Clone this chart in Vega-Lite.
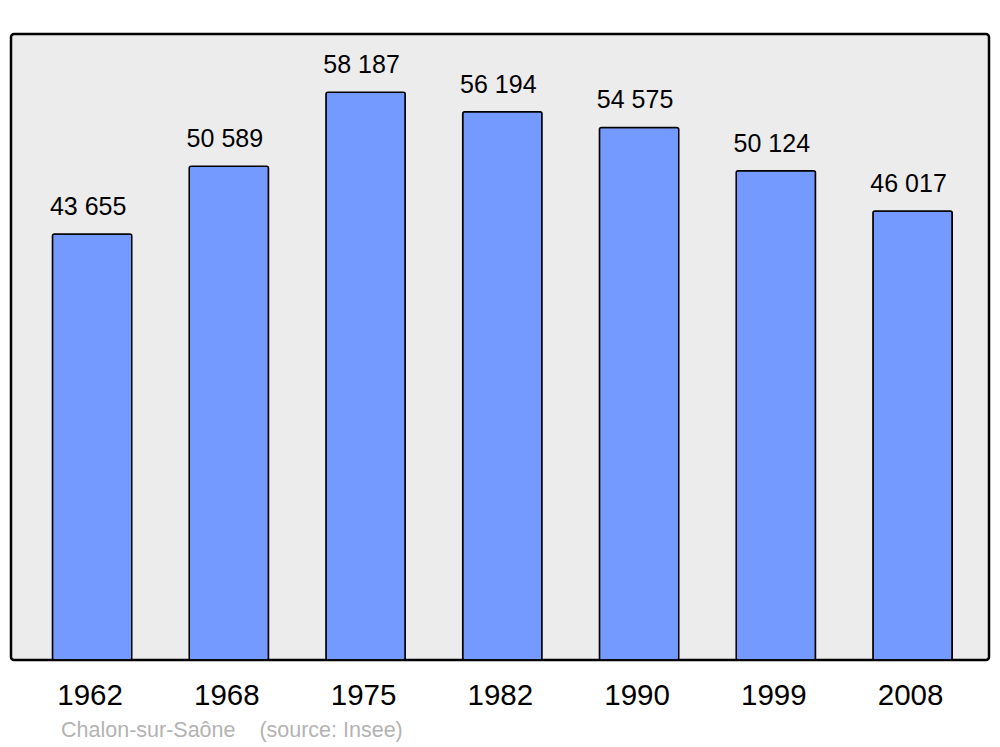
{
  "$schema": "https://vega.github.io/schema/vega-lite/v6.json",
  "width": 978,
  "height": 626,
  "autosize": {"type": "none"},
  "padding": {"left": 11, "top": 34, "right": 11, "bottom": 87},
  "background": "white",
  "config": {
    "font": "Liberation Sans",
    "view": {"fill": "#ececec", "stroke": "black", "strokeWidth": 2.5, "cornerRadius": 3}
  },
  "title": {
    "text": "Chalon-sur-Saône\u00a0\u00a0\u00a0\u00a0(source: Insee)",
    "orient": "bottom",
    "anchor": "start",
    "dx": 50,
    "offset": 10,
    "fontSize": 21.5,
    "fontWeight": "normal",
    "color": "#b3b3b3",
    "font": "Liberation Sans"
  },
  "data": {
    "values": [
      {"year": "1962", "pop": 43655, "label": "43 655"},
      {"year": "1968", "pop": 50589, "label": "50 589"},
      {"year": "1975", "pop": 58187, "label": "58 187"},
      {"year": "1982", "pop": 56194, "label": "56 194"},
      {"year": "1990", "pop": 54575, "label": "54 575"},
      {"year": "1999", "pop": 50124, "label": "50 124"},
      {"year": "2008", "pop": 46017, "label": "46 017"}
    ]
  },
  "encoding": {
    "x": {
      "field": "year",
      "type": "nominal",
      "sort": null,
      "scale": {"paddingInner": 0.42, "paddingOuter": 0.286, "align": 0.53},
      "axis": {
        "title": null,
        "labelAngle": 0,
        "labelFontSize": 29.5,
        "labelColor": "black",
        "labelPadding": 21,
        "labelOffset": -2,
        "domain": false,
        "ticks": false,
        "labelFont": "Liberation Sans"
      }
    },
    "y": {
      "field": "pop",
      "type": "quantitative",
      "scale": {"domain": [0, 64150], "nice": false},
      "axis": null
    }
  },
  "layer": [
    {
      "mark": {"type": "bar", "fill": "#7499ff", "stroke": "black", "strokeWidth": 1.5, "cornerRadius": 2}
    },
    {
      "mark": {"type": "text", "baseline": "alphabetic", "dy": -19, "dx": -4, "fontSize": 25, "color": "black"},
      "encoding": {"text": {"field": "label"}}
    }
  ]
}
